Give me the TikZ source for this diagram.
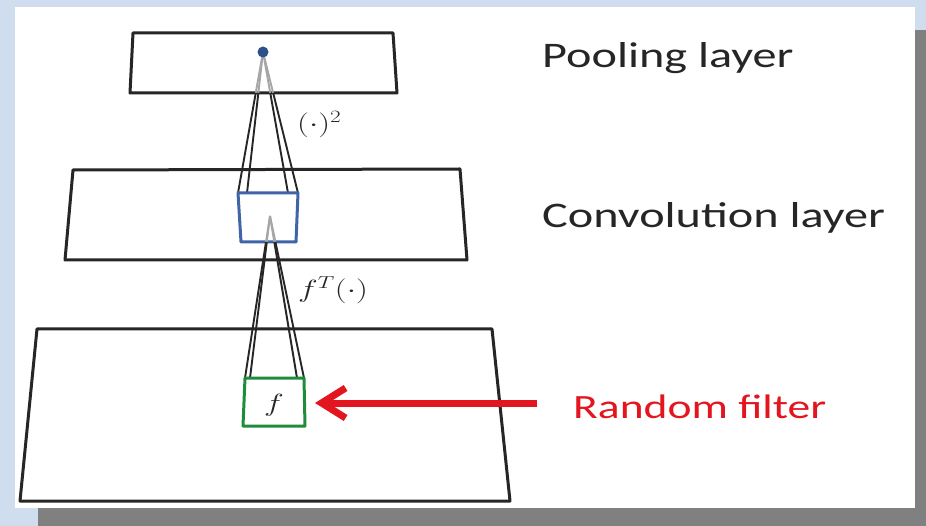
\documentclass[tikz,border=0pt]{standalone}
\usepackage{graphicx}
\usepackage{fontspec}
\setmainfont{Carlito}
\newfontfamily\widefont[FakeStretch=1.34]{Carlito}
\usetikzlibrary{arrows.meta,calc}
\definecolor{bgblue}{HTML}{CFDDEE}
\definecolor{shadowgray}{HTML}{808080}
\definecolor{boxblue}{HTML}{3F65A8}
\definecolor{boxgreen}{HTML}{1F8C3C}
\definecolor{dotblue}{HTML}{2F4F8A}
\definecolor{arrowred}{HTML}{E3161F}
\definecolor{textgray}{HTML}{262626}
\newcommand{\wmath}[1]{\scalebox{1.34}[1]{$#1$}}
\tikzset{
  layer/.style={draw=black!85, line width=3pt, line join=round},
  beam/.style={draw=black!85, line width=1.9pt},
  beamin/.style={draw=black!35, line width=1.9pt},
  lbl/.style={anchor=base west, text=textgray, font=\widefont\fontsize{36}{40}\selectfont, inner sep=0pt},
  mlbl/.style={text=textgray, inner sep=0pt}
}
\begin{document}
\begin{tikzpicture}[x=1pt,y=-1pt]
\useasboundingbox (0,0) rectangle (926,526);
% background, shadow, panel
\fill[bgblue] (0,0) rectangle (926,526);
\fill[shadowgray] (38,30) rectangle (926,526);
\fill[white] (15,7) rectangle (915,508);

% layers
\draw[layer] (133,33) -- (393,33) -- (397,93) -- (130,93) -- cycle;
\draw[layer] (73,170) -- (460,169) -- (467,260) -- (65,260) -- cycle;
\draw[layer] (37,329) -- (492,329) -- (510,501) -- (20,501) -- cycle;

% pooled unit
\coordinate (apexA) at (263,52);
\coordinate (ctl) at (238,193);
\coordinate (cti) at (247,193);
\coordinate (ctj) at (288,193);
\coordinate (ctr) at (298,193);
\foreach \t in {ctl,cti,ctj,ctr}{
  \draw[beamin] (apexA) -- ($(apexA)!0.29!(\t)$);
  \draw[beam] ($(apexA)!0.29!(\t)$) -- (\t);
}
% convolution patch
\draw[draw=boxblue, line width=3pt, line join=round] (238,193) -- (298,193) -- (296,242) -- (241,242) -- cycle;
\coordinate (apexB) at (270,216);
\coordinate (ftl) at (245,378);
\coordinate (fti) at (250,378);
\coordinate (ftj) at (297,378);
\coordinate (ftr) at (304,378);
\foreach \t in {ftl,fti,ftj,ftr}{
  \draw[beamin] (apexB) -- ($(apexB)!0.16!(\t)$);
  \draw[beam] ($(apexB)!0.16!(\t)$) -- (\t);
}
\fill[dotblue] (apexA) circle (5.5);
% filter
\draw[draw=boxgreen, line width=3pt, line join=round] (245,378) -- (304,378) -- (305,426) -- (243,426) -- cycle;
\node[mlbl, font=\fontsize{26}{28}\selectfont] (fl) at (274,405) {\wmath{f}};

% operator labels
\node[mlbl, anchor=west, font=\fontsize{25}{28}\selectfont] (sq) at (297,125) {\wmath{(\cdot)^2}};
\node[mlbl, anchor=west, font=\fontsize{27}{30}\selectfont] (ft) at (298,290) {\wmath{f^T(\cdot)}};

% layer names
\node[lbl] (pl) at (542,68) {Pooling layer};
\node[lbl] (cl) at (542,228) {Convolution layer};
\node[lbl, text=arrowred, font=\widefont\fontsize{34}{38}\selectfont] (rf) at (573,418) {Random filter};

% red arrow
\coordinate (atail) at (537,403);
\coordinate (atip) at (315,403);
\draw[arrowred, line width=7pt, -{Straight Barb[length=24pt,width=30pt,line width=7pt]}] (atail) -- (atip);
\end{tikzpicture}
\end{document}
